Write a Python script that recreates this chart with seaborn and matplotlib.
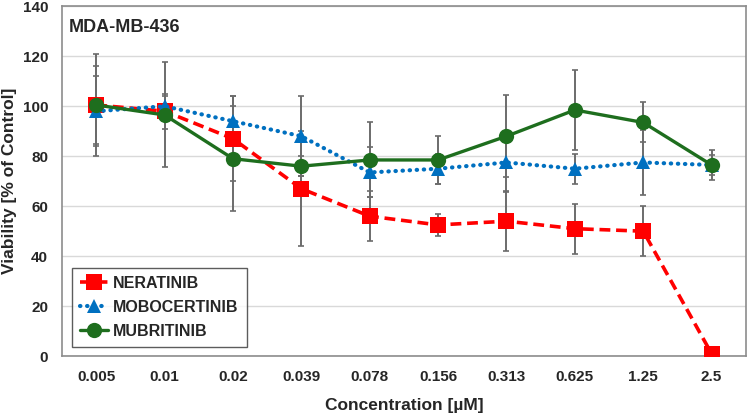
import numpy as np
import pandas as pd
import matplotlib
matplotlib.use("Agg")
import matplotlib.pyplot as plt
import seaborn as sns

concentrations = ["0.005", "0.01", "0.02", "0.039", "0.078", "0.156", "0.313", "0.625", "1.25", "2.5"]

neratinib = [100.5, 98, 87, 67, 56, 52.5, 54, 51, 50, 1]
neratinib_err = [15.5, 7, 17, 23, 10, 4.5, 12, 10, 10, 0]

mobocertinib = [98, 100, 94, 88, 73.5, 75, 77.5, 75, 77.5, 76.5]
mobocertinib_err = [14, 4, 10, 16, 10, 6, 12, 6, 13, 4]

mubritinib = [100.5, 96.5, 79, 76, 78.5, 78.5, 88, 98.5, 93.5, 76.5]
mubritinib_err = [20.5, 21, 21, 4, 15, 9.5, 16.5, 16, 8, 6]

colors = {"NERATINIB": "#FF0000", "MOBOCERTINIB": "#0070C0", "MUBRITINIB": "#1E6E1E"}

sns.set_theme(style="white")
plt.rcParams["font.family"] = ["Liberation Sans", "DejaVu Sans"]
plt.rcParams["font.weight"] = "bold"

fig = plt.figure(figsize=(7.48, 4.18), dpi=100)
ax = fig.add_axes([0.083, 0.148, 0.914, 0.837])

series = [
    ("NERATINIB", neratinib, neratinib_err, "s", (3, 1.6), 12, 2.6),
    ("MOBOCERTINIB", mobocertinib, mobocertinib_err, "^", (0.1, 1.6), 10, 3.0),
    ("MUBRITINIB", mubritinib, mubritinib_err, "o", (), 11, 2.4),
]

x = np.arange(len(concentrations))

# error bars first, behind the lines
for name, vals, errs, *_ in series:
    ax.errorbar(x, vals, yerr=errs, fmt="none", ecolor="#6b6b6b",
                elinewidth=1.4, capsize=2.5, capthick=1.2, zorder=1)

for name, vals, errs, mk, dash, ms, lw in series:
    df = pd.DataFrame({"x": x, "y": vals})
    sns.lineplot(data=df, x="x", y="y", ax=ax, color=colors[name],
                 marker=mk, markersize=ms, markeredgewidth=0,
                 linewidth=lw, label=name, zorder=3)
    l = ax.lines[-1]
    if dash:
        l.set_dashes(dash)
        if name == "MOBOCERTINIB":
            l.set_dash_capstyle("round")

ax.set_xlim(-0.5, len(concentrations) - 0.5)
ax.set_ylim(0, 140)
ax.set_yticks(np.arange(0, 141, 20))
ax.set_xticks(x)
ax.set_xticklabels(concentrations)
ax.tick_params(axis="both", labelsize=11, length=0)
ax.tick_params(axis="x", pad=10)
ax.tick_params(axis="y", pad=10)
for lbl in ax.get_xticklabels() + ax.get_yticklabels():
    lbl.set_fontweight("bold")

ax.grid(axis="y", color="#d9d9d9", linewidth=1)
ax.set_axisbelow(True)
for sp in ax.spines.values():
    sp.set_color("#8c8c8c")
    sp.set_linewidth(1.2)

ax.set_xlabel("Concentration [µM]", fontsize=12.5, fontweight="bold", labelpad=10)
ax.set_ylabel("Viability [% of Control]", fontsize=12.5, fontweight="bold", labelpad=4)
ax.text(0.01, 0.965, "MDA-MB-436", transform=ax.transAxes, fontsize=13,
        fontweight="bold", va="top", ha="left")

leg = ax.legend(loc="lower left", bbox_to_anchor=(0.0, 0.0), frameon=True,
                fancybox=False, edgecolor="#333333",
                prop={"weight": "bold", "size": 11.5},
                handlelength=1.8, handletextpad=0.3, borderpad=0.5,
                labelspacing=0.55, borderaxespad=0.6)
leg.get_frame().set_linewidth(1.0)

fig.savefig("out.png", dpi=100)
